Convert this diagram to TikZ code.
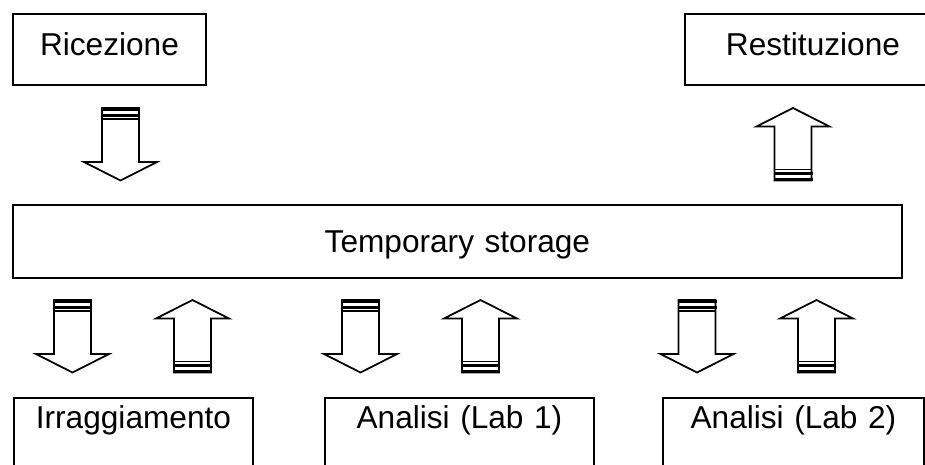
\documentclass[tikz,border=0pt]{standalone}
\usepackage{fontspec}
\setmainfont{Liberation Sans}
\usepackage{tikz}
\usetikzlibrary{positioning}

\tikzset{
    stagebox/.style={draw=black, line width=1.1pt, rectangle, anchor=north west,
        inner sep=0pt, align=center, font=\fontsize{18}{21}\selectfont},
    blockline/.style={draw=black, line width=1pt, fill=white, line join=miter},
    downflow/.pic={
        \path[blockline] (-18.5,0) -- (-18.5,54) -- (-36.5,54) -- (0,72.5)
            -- (36.5,54) -- (18.5,54) -- (18.5,0) -- cycle;
        \fill[black] (-19.5,-0.5) rectangle (19.5,3);
        \fill[black] (-19.5,5.5) rectangle (19.5,9);
        \draw[line width=1pt] (-18.5,11) -- (18.5,11);
    },
    upflow/.pic={
        \path[blockline] (0,0) -- (36.5,18.5) -- (18.5,18.5) -- (18.5,72.5)
            -- (-18.5,72.5) -- (-18.5,18.5) -- (-36.5,18.5) -- cycle;
        \draw[line width=1pt] (-18.5,61.5) -- (18.5,61.5);
        \fill[black] (-19.5,63.5) rectangle (19.5,67);
        \fill[black] (-19.5,69.5) rectangle (19.5,73);
    }
}

\begin{document}
\begin{tikzpicture}[x=0.02cm, y=-0.02cm]
\useasboundingbox[fill=white] (0,0) rectangle (925,464);

% top row
\node[stagebox, text width=3.86cm, text height=0.84cm, text depth=0.58cm] (ricezione) at (12,13) {Ricezione};
\node[stagebox, text width=5.12cm, text height=0.84cm, text depth=0.58cm] (restituzione) at (684,13) {Restituzione};

% storage
\node[stagebox, text width=17.78cm, text height=0.96cm, text depth=0.5cm] (storage) at (12,204) {Temporary storage};

% bottom row
\node[stagebox, text width=4.78cm, text height=0.62cm, text depth=1.24cm] (irraggiamento) at (13,397) {Irraggiamento};
\node[stagebox, text width=5.38cm, text height=0.62cm, text depth=1.24cm] (lab1) at (324,397) {Analisi (Lab 1)};
\node[stagebox, text width=5.22cm, text height=0.62cm, text depth=1.24cm] (lab2) at (662,397) {Analisi (Lab 2)};

% flows
\pic at (120.5,108) {downflow};
\pic at (793,108) {upflow};
\foreach \dx/\ux in {72.5/192.5, 360.5/480.5, 697/816.5}{
    \pic at (\dx,300) {downflow};
    \pic at (\ux,300) {upflow};
}
\end{tikzpicture}
\end{document}
